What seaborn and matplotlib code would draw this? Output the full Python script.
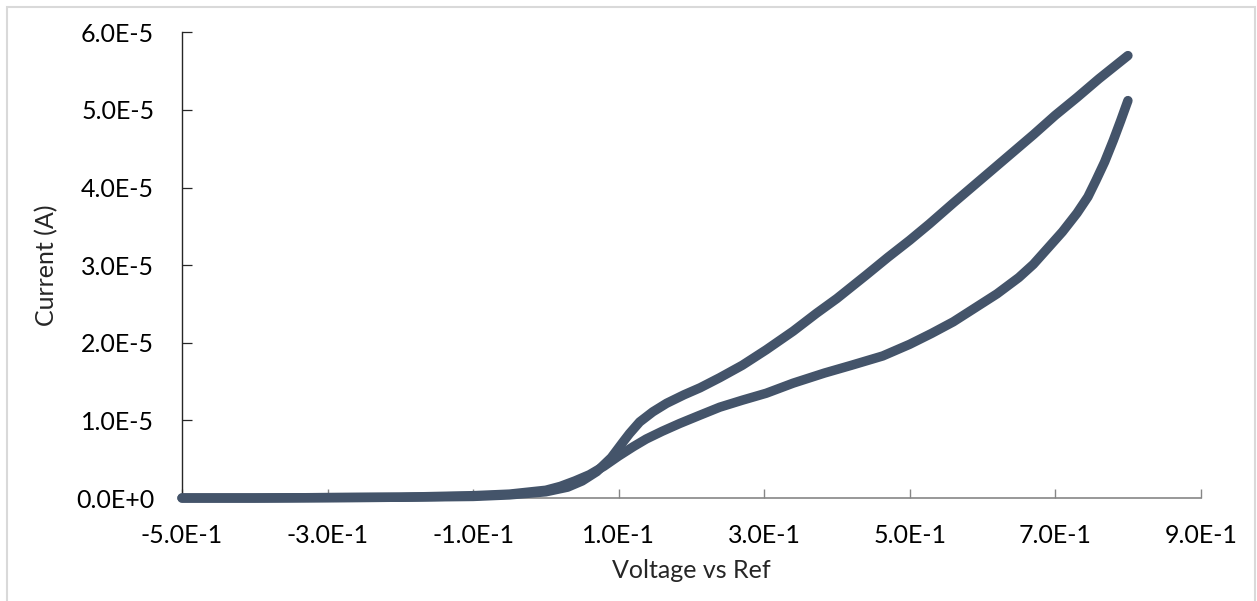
import matplotlib
matplotlib.use("Agg")
import matplotlib.pyplot as plt
import seaborn as sns
import pandas as pd
from matplotlib.patches import Rectangle

# Forward sweep (lower branch), voltage in V, current in units of 1e-5 A
fwd_v = [-0.50, -0.40, -0.30, -0.20, -0.10, -0.05, 0.00, 0.02, 0.04, 0.06, 0.08,
         0.10, 0.12, 0.138, 0.16, 0.184, 0.21, 0.239, 0.27, 0.303, 0.34, 0.383,
         0.42, 0.463, 0.50, 0.53, 0.56, 0.59, 0.62, 0.65, 0.67, 0.69, 0.71, 0.73,
         0.745, 0.756, 0.768, 0.78, 0.79, 0.80]
fwd_i = [0.00, 0.00, 0.005, 0.01, 0.03, 0.05, 0.10, 0.15, 0.22, 0.30, 0.41,
         0.54, 0.66, 0.76, 0.86, 0.96, 1.06, 1.17, 1.26, 1.35, 1.48, 1.61,
         1.71, 1.83, 1.98, 2.12, 2.27, 2.45, 2.63, 2.84, 3.01, 3.22, 3.43, 3.67,
         3.88, 4.09, 4.33, 4.61, 4.86, 5.12]

# Reverse sweep (upper branch)
rev_v = [0.80, 0.78, 0.76, 0.73, 0.70, 0.67, 0.64, 0.60, 0.56, 0.527, 0.50,
         0.47, 0.44, 0.40, 0.372, 0.34, 0.303, 0.27, 0.239, 0.212, 0.19, 0.166,
         0.147, 0.129, 0.115, 0.106, 0.09, 0.07, 0.05, 0.03, 0.00, -0.05, -0.10,
         -0.20, -0.30, -0.40, -0.50]
rev_i = [5.70, 5.55, 5.40, 5.16, 4.93, 4.68, 4.44, 4.12, 3.80, 3.53, 3.32,
         3.10, 2.87, 2.57, 2.38, 2.15, 1.91, 1.71, 1.55, 1.42, 1.33, 1.22,
         1.11, 0.98, 0.83, 0.72, 0.52, 0.34, 0.22, 0.14, 0.08, 0.04, 0.02,
         0.01, 0.005, 0.00, 0.00]

x_ticks = [-0.5, -0.3, -0.1, 0.1, 0.3, 0.5, 0.7, 0.9]
x_labels = ["-5.0E-1", "-3.0E-1", "-1.0E-1", "1.0E-1", "3.0E-1", "5.0E-1", "7.0E-1", "9.0E-1"]
y_ticks = [0, 1e-5, 2e-5, 3e-5, 4e-5, 5e-5, 6e-5]
y_labels = ["0.0E+0", "1.0E-5", "2.0E-5", "3.0E-5", "4.0E-5", "5.0E-5", "6.0E-5"]

df = pd.concat([
    pd.DataFrame({"V": fwd_v, "I": [v * 1e-5 for v in fwd_i], "sweep": "fwd"}),
    pd.DataFrame({"V": rev_v, "I": [v * 1e-5 for v in rev_i], "sweep": "rev"}),
], ignore_index=True)

sns.set_style("white")
plt.rcParams["font.family"] = ["Lato", "DejaVu Sans"]

W, H = 1257, 601
fig = plt.figure(figsize=(W / 100, H / 100), dpi=100)
ax = fig.add_axes([182 / W, (H - 498) / H, (1200.7 - 182) / W, (498 - 32.3) / H])

color = "#44546A"
for name in ["fwd", "rev"]:
    sub = df[df["sweep"] == name]
    sns.lineplot(data=sub, x="V", y="I", sort=False, estimator=None, ax=ax,
                 color=color, linewidth=6.8, solid_capstyle="round",
                 solid_joinstyle="round", clip_on=False, zorder=3)

ax.set_xlim(-0.5, 0.9)
ax.set_ylim(0, 6e-5)
ax.set_xticks(x_ticks)
ax.set_xticklabels(x_labels)
ax.set_yticks(y_ticks)
ax.set_yticklabels(y_labels)

for s in ["top", "right"]:
    ax.spines[s].set_visible(False)
ax.spines["left"].set_color("#262626")
ax.spines["left"].set_linewidth(1.0)
ax.spines["bottom"].set_color("#868686")
ax.spines["bottom"].set_linewidth(1.2)

ax.tick_params(axis="y", direction="in", length=7, width=0.9, color="#262626",
               pad=20, labelsize=18, labelcolor="#000000", left=True)
ax.tick_params(axis="x", direction="in", length=6.5, width=1.0, color="#868686",
               pad=19, labelsize=18, labelcolor="#000000", bottom=True)

ax.set_xlabel("Voltage vs Ref", fontsize=18, labelpad=8)
ax.set_ylabel("Current (A)", fontsize=18, labelpad=13)
ax.grid(False)

fig.patches.append(Rectangle((7 / W, -0.01), (1255 - 7) / W, (H - 7) / H + 0.01,
                             transform=fig.transFigure, fill=False,
                             edgecolor="#D9D9D9", linewidth=1.5))

fig.savefig("out.png", dpi=100)
